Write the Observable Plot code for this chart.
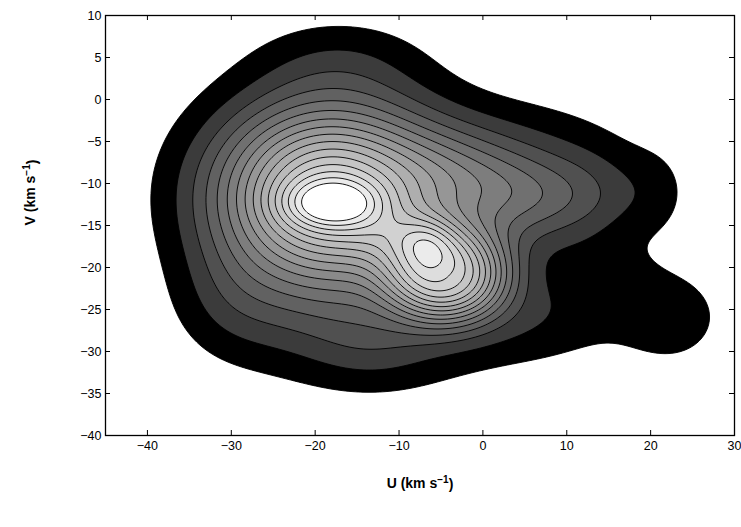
<!DOCTYPE html>
<html><head><meta charset="utf-8">
<script src="https://cdn.jsdelivr.net/npm/d3@7"></script>
<script src="https://cdn.jsdelivr.net/npm/@observablehq/plot@0.6"></script>
<style>body{margin:0;background:#fff;}</style>
</head><body><div id="chart"></div>
<script>
// Axis ticks
const xTicks = [-40, -30, -20, -10, 0, 10, 20, 30];
const yTicks = [-40, -35, -30, -25, -20, -15, -10, -5, 0, 5, 10];
const xTitle = "U (km s-1)";
const yTitle = "V (km s-1)";

// Contour levels (relative density) and band fills (black -> white)
const levels = [0.0625, 0.125, 0.1875, 0.25, 0.3125, 0.375, 0.4375, 0.5,
                0.5625, 0.625, 0.6875, 0.75, 0.8125, 0.875, 0.9375, 1.0];
const bandColors = ["#000000", "#3b3b3b", "#505050", "#616161", "#707070", "#7d7d7d",
                    "#8a8a8a", "#969696", "#a2a2a2", "#aeaeae", "#bababa", "#c5c5c5",
                    "#d1d1d1", "#dddddd", "#ebebeb", "#ffffff"];

// Density components (centre U, V; widths; weight; profile exponent)
const compName = ["main core", "main broad", "second broad", "second top", "bridge", "middle",
                  "plateau", "right outer", "right edge", "right mid", "right lobe", "top", "top right",
                  "bottom", "bottom dip", "bottom right", "right bottom", "left bottom", "base"];
const compU  = [-17.9, -18.5, -4.3, -6.8, -11.5, -4.0,   5.0,  14.0,  21.0,  15.0,  22.5, -17.0,  6.0, -14.0, -13.0,   4.0,  10.0, -30.0,  -7.0];
const compV  = [-12.4, -11.5, -20.8, -16.4, -16.0, -9.0, -11.5, -11.0, -11.0, -21.0, -26.0,  5.0, -4.0, -28.0, -30.0, -27.0, -24.0, -24.0, -14.0];
const compSU = [ 3.8,   9.0,  5.5,  2.5,  3.5,  6.0,   6.5,   4.5,   3.0,   4.0,   4.5,   7.0,  8.0,  10.0,   5.0,   8.0,   6.0,   5.0,  16.0];
const compSV = [ 1.9,   7.5,  4.2,  2.0,  2.5,  4.0,   4.0,   4.0,   4.0,   3.0,   4.0,   3.5,  3.5,   5.0,   3.0,   3.5,   4.0,   5.0,  11.0];
const compW  = [ 0.26,  0.85, 0.675, 0.14, 0.09, 0.15,  0.22,  0.07,  0.05,  0.04, 0.095,  0.06, 0.04,  0.10,  0.03,  0.06,  0.04,  0.07,  0.06];
const compP  = [ 2,     2,    2.5,  2,    2,    2,     2,     2,     2,     2,     2,     2,    2,     2,     2,     2,     2,     2,     2];

function density(u, v) {
  let s = 0;
  for (let i = 0; i < compU.length; i++) {
    const a = (u - compU[i]) / compSU[i];
    const b = (v - compV[i]) / compSV[i];
    const r2 = a * a + b * b;
    s += compW[i] * Math.exp(-0.5 * Math.pow(r2, compP[i] / 2));
  }
  return s;
}

const font = "'Liberation Sans', Arial, Helvetica, sans-serif";

const plot = Plot.plot({
  width: 741, height: 527,
  marginLeft: 105, marginRight: 7, marginTop: 15, marginBottom: 92,
  x: {domain: [-45, 30]},
  y: {domain: [-40, 10]},
  color: {type: "ordinal", domain: levels, range: bandColors},
  style: {fontFamily: font, fontSize: "12.5px", background: "white", color: "black"},
  marks: [
    Plot.contour({fill: density, x1: -45, x2: 30, y1: -40, y2: 10,
                  thresholds: levels, stroke: "black", strokeWidth: 0.9, pixelSize: 1}),
    Plot.ruleX(xTicks, {x: d => d, insetTop: 415, stroke: "black"}),
    Plot.ruleX(xTicks, {x: d => d, insetBottom: 415, stroke: "black"}),
    Plot.ruleY(yTicks, {y: d => d, insetLeft: 624, stroke: "black"}),
    Plot.ruleY(yTicks, {y: d => d, insetRight: 624, stroke: "black"}),
    Plot.axisX(xTicks, {anchor: "bottom", tickSize: 0, tickPadding: 6, label: null, fontSize: 12.5}),
    Plot.axisY(yTicks, {anchor: "left", tickSize: 0, tickPadding: 4, label: null, fontSize: 12.5}),
    Plot.frame({stroke: "black", strokeWidth: 1.3}),
    Plot.text([xTitle], {frameAnchor: "bottom", dy: 52, fontWeight: "bold", fontSize: 14, text: d => d}),
    Plot.text([yTitle], {frameAnchor: "left", dx: -75, rotate: -90, fontWeight: "bold", fontSize: 14, text: d => d})
  ]
});

// superscript "−1" in the axis titles
d3.select(plot).selectAll("text").each(function () {
  const t = this.textContent;
  if (t === xTitle || t === yTitle) {
    const base = t.slice(0, t.indexOf("s-1") + 1);
    const sel = d3.select(this);
    sel.text(null);
    sel.append("tspan").text(base);
    sel.append("tspan").attr("dy", "-0.45em").attr("font-size", "10px").text("\u22121");
    sel.append("tspan").attr("dy", "0.45em").text(")");
  }
});

document.getElementById("chart").appendChild(plot);
</script>
</body></html>
